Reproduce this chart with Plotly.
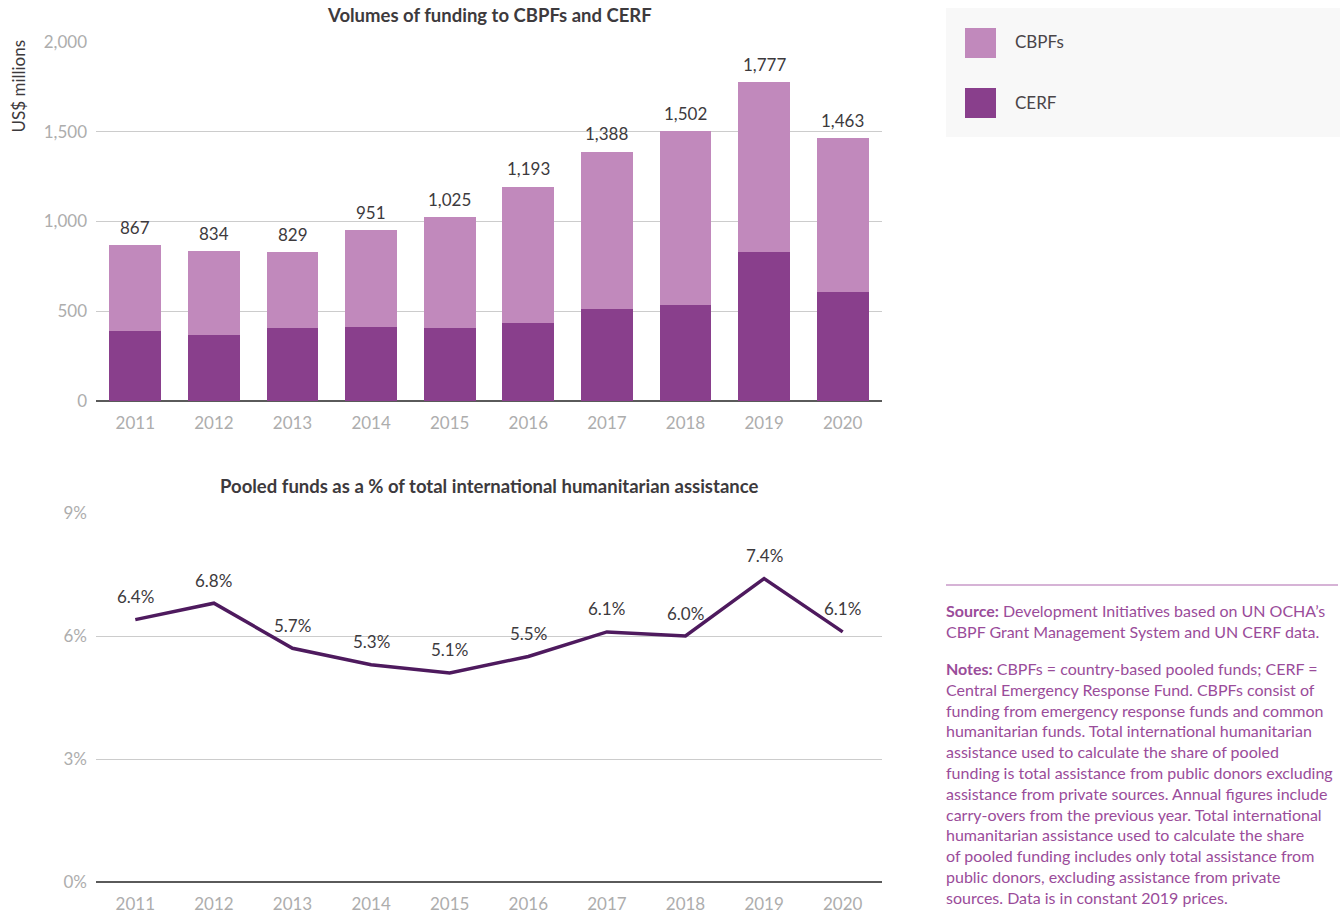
import plotly.graph_objects as go

years = ["2011", "2012", "2013", "2014", "2015", "2016", "2017", "2018", "2019", "2020"]
totals = [867, 834, 829, 951, 1025, 1193, 1388, 1502, 1777, 1463]
cerf = [390, 369, 405, 410, 405, 436, 513, 535, 832, 609]
cbpf = [t - c for t, c in zip(totals, cerf)]
share_pct = [6.4, 6.8, 5.7, 5.3, 5.1, 5.5, 6.1, 6.0, 7.4, 6.1]
y1_ticks = [0, 500, 1000, 1500, 2000]
y2_ticks = [0, 3, 6, 9]

W, H = 1340, 913
FONT = "Lato"
C_CBPF = "#c189bc"
C_CERF = "#893f8c"
C_LINE = "#4e1a5e"
C_TEXT = "#3d3a3d"
C_TICK = "#adadad"
C_NOTE = "#9a4c9a"

def px_x(p):
    return p / W

def px_y(p):
    return 1 - p / H

fig = go.Figure()

fig.add_trace(go.Bar(x=years, y=cerf, name="CERF", marker=dict(color=C_CERF, line=dict(width=0)),
                     xaxis="x", yaxis="y", showlegend=False, hoverinfo="x+y"))
fig.add_trace(go.Bar(x=years, y=cbpf, name="CBPFs", marker=dict(color=C_CBPF, line=dict(width=0)),
                     xaxis="x", yaxis="y", showlegend=False, hoverinfo="x+y"))

fig.add_trace(go.Scatter(x=years, y=share_pct, mode="lines",
                         line=dict(color=C_LINE, width=3.5), xaxis="x2", yaxis="y2", showlegend=False))

axis_common = dict(tickfont=dict(family=FONT, size=17, color=C_TICK), showline=False, ticks="", automargin=False)
xrange = [-0.5, len(years) - 0.5]

fig.update_layout(
    template="none",
    width=W, height=H,
    margin=dict(l=0, r=0, t=0, b=0, pad=0),
    paper_bgcolor="white", plot_bgcolor="white",
    barmode="stack", bargap=0.34,
    font=dict(family=FONT, color=C_TEXT),
    xaxis=dict(type="category", range=xrange, domain=[px_x(96), px_x(882)], anchor="y", showgrid=False,
               ticklabelstandoff=10, **axis_common),
    yaxis=dict(domain=[px_y(401), px_y(42)], range=[0, 2000], tickvals=y1_ticks,
               ticktext=[f"{v:,}" for v in y1_ticks], gridcolor="#cccccc", gridwidth=1.3, showgrid=True,
               zeroline=True, zerolinecolor="#5a5a5a", zerolinewidth=1.5, ticklabelstandoff=8, **axis_common),
    xaxis2=dict(type="category", range=xrange, domain=[px_x(96), px_x(882)], anchor="y2", showgrid=False,
                ticklabelstandoff=10, **axis_common),
    yaxis2=dict(domain=[px_y(882), px_y(513)], range=[0, 9], tickvals=y2_ticks,
                ticktext=[f"{v}%" for v in y2_ticks], gridcolor="#cccccc", gridwidth=1.3, showgrid=True,
                zeroline=True, zerolinecolor="#5a5a5a", zerolinewidth=1.5, ticklabelstandoff=8, **axis_common),
)

ann = []
for i, tot in enumerate(totals):
    ann.append(dict(text=f"{tot:,}", x=i, y=tot, xref="x", yref="y", showarrow=False, yshift=18,
                    font=dict(family=FONT, size=17, color=C_TEXT), xanchor="center", yanchor="middle"))
for i, v in enumerate(share_pct):
    ann.append(dict(text=f"{v:.1f}%", x=i, y=v, xref="x2", yref="y2", showarrow=False, yshift=23,
                    font=dict(family=FONT, size=17, color=C_TEXT), xanchor="center", yanchor="middle"))
ann.append(dict(text="<b>Volumes of funding to CBPFs and CERF</b>", x=px_x(489), y=px_y(15), xref="paper", yref="paper",
                showarrow=False, font=dict(family=FONT, size=18.5, color=C_TEXT), xanchor="center", yanchor="middle"))
ann.append(dict(text="<b>Pooled funds as a % of total international humanitarian assistance</b>", x=px_x(489), y=px_y(486),
                xref="paper", yref="paper", showarrow=False, font=dict(family=FONT, size=18.5, color=C_TEXT),
                xanchor="center", yanchor="middle"))
ann.append(dict(text="US$ millions", x=px_x(18), y=px_y(38), xref="paper", yref="paper", textangle=-90,
                showarrow=False, font=dict(family=FONT, size=17, color=C_TEXT), xanchor="center", yanchor="top"))
# legend
ann.append(dict(text="CBPFs", x=px_x(1013), y=px_y(42), xref="paper", yref="paper", showarrow=False,
                font=dict(family=FONT, size=17, color="#4a4548"), xanchor="left", yanchor="middle"))
ann.append(dict(text="CERF", x=px_x(1013), y=px_y(102), xref="paper", yref="paper", showarrow=False,
                font=dict(family=FONT, size=17, color="#4a4548"), xanchor="left", yanchor="middle"))
# source & notes
source_txt = "<b>Source:</b> Development Initiatives based on UN OCHA’s<br>CBPF Grant Management System and UN CERF data."
notes_lines = [
    "<b>Notes:</b> CBPFs = country-based pooled funds; CERF =",
    "Central Emergency Response Fund. CBPFs consist of",
    "funding from emergency response funds and common",
    "humanitarian funds. Total international humanitarian",
    "assistance used to calculate the share of pooled",
    "funding is total assistance from public donors excluding",
    "assistance from private sources. Annual figures include",
    "carry-overs from the previous year. Total international",
    "humanitarian assistance used to calculate the share",
    "of pooled funding includes only total assistance from",
    "public donors, excluding assistance from private",
    "sources. Data is in constant 2019 prices.",
]
ann.append(dict(text=source_txt, x=px_x(944), y=px_y(599), xref="paper", yref="paper", showarrow=False,
                align="left", font=dict(family=FONT, size=16, color=C_NOTE), xanchor="left", yanchor="top"))
ann.append(dict(text="<br>".join(notes_lines), x=px_x(944), y=px_y(657), xref="paper", yref="paper", showarrow=False,
                align="left", font=dict(family=FONT, size=16, color=C_NOTE), xanchor="left", yanchor="top"))
fig.update_layout(annotations=ann)

shapes = [
    dict(type="rect", xref="paper", yref="paper", x0=px_x(946), x1=px_x(1340), y0=px_y(137), y1=px_y(8),
         fillcolor="#f8f8f8", line=dict(width=0), layer="below"),
    dict(type="rect", xref="paper", yref="paper", x0=px_x(965), x1=px_x(996), y0=px_y(58), y1=px_y(28),
         fillcolor=C_CBPF, line=dict(width=0)),
    dict(type="rect", xref="paper", yref="paper", x0=px_x(965), x1=px_x(996), y0=px_y(118), y1=px_y(88),
         fillcolor=C_CERF, line=dict(width=0)),
    dict(type="line", xref="paper", yref="paper", x0=px_x(946), x1=px_x(1338), y0=px_y(585), y1=px_y(585),
         line=dict(color="#c99ac9", width=1.5)),
]
fig.update_layout(shapes=shapes)

fig.write_html("out.html", config={"displayModeBar": False},
               post_script="document.body.style.margin='0';document.body.style.overflow='hidden';")
